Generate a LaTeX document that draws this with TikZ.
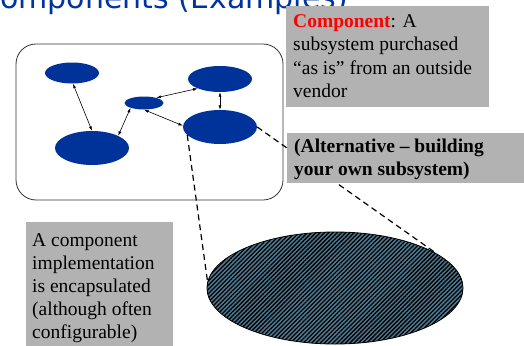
\documentclass[tikz,border=0pt]{standalone}
\usepackage{fontspec}
\setmainfont{Liberation Serif}
\newfontfamily\titlefont{DejaVu Sans}
\usetikzlibrary{arrows.meta,patterns.meta,shapes.geometric}
\definecolor{compblue}{RGB}{0,51,153}
\definecolor{boxgray}{RGB}{178,178,178}
\definecolor{hatchfill}{RGB}{80,122,145}
\definecolor{titleblue}{RGB}{0,51,160}
\definecolor{framegray}{RGB}{50,50,50}
\begin{document}
\begin{tikzpicture}[x=1pt,y=-1pt,
  comp/.style={ellipse, fill=compblue, draw=none, inner sep=0pt},
  link/.style={{Latex[length=4.5pt,width=3pt]}-{Latex[length=4.5pt,width=3pt]}, line width=0.6pt},
  dashlink/.style={dash pattern=on 6pt off 4pt, line width=1.2pt},
  notebox/.style={fill=boxgray, draw=none, inner sep=0pt, anchor=north west},
  notetext/.style={inner sep=0pt, anchor=north west, align=left, font=\fontsize{19.5}{23.3}\selectfont}]
\useasboundingbox (0,0) rectangle (524,345);

% title (cut off at the top, as in the reference)
\node[font=\titlefont\fontsize{30}{32}\selectfont, text=titleblue, anchor=base east, inner sep=0pt] (title) at (348,9) {Components (Examples)};

% subsystem frame
\node[draw=framegray, line width=0.8pt, rounded corners=20pt, minimum width=267, minimum height=156, inner sep=0pt] (sys) at (149.5,122) {};

% components
\node[comp, minimum width=54, minimum height=21] (e1) at (72,73) {};
\node[comp, minimum width=39, minimum height=13] (e2) at (144,103) {};
\node[comp, minimum width=64, minimum height=26] (e3) at (220,79) {};
\node[comp, minimum width=74, minimum height=34] (e4) at (220,127) {};
\node[comp, minimum width=74, minimum height=34] (e5) at (92,148) {};

\draw[link] (e1.-85) -- (e5.north);
\draw[link] (e5.25) -- (e2.200);
\draw[link] (e2.23) -- (e3.203);
\draw[link] (e3.south) -- (e4.north);
\draw[link] (e2.south) -- (e4.178);

% encapsulated implementation
\node[ellipse, draw=black, line width=0.8pt, fill=hatchfill, minimum width=256, minimum height=112, inner sep=0pt,
  postaction={pattern={Lines[angle=45,distance=3pt,line width=1.3pt]}, pattern color=black}] (big) at (335,288) {};

\draw[dashlink] (e4.east) -- (big.19);
\draw[dashlink] (e4.194) -- (big.177);

% notes
\node[notebox, minimum width=203, minimum height=101] (b1) at (286,6) {};
\node[notetext] (t1) at (293,14.5) {\textcolor{red}{\textbf{Component}}: A\\subsystem purchased\\``as is'' from an outside\\vendor};

\node[notebox, minimum width=240, minimum height=50] (b2) at (287,133) {};
\node[notetext, font=\fontsize{19.5}{23}\selectfont\bfseries] (t2) at (294,139) {(Alternative -- building\\your own subsystem)};

\node[notebox, minimum width=147, minimum height=130] (b3) at (26,222) {};
\node[notetext, font=\fontsize{19.5}{23}\selectfont] (t3) at (32,233) {A component\\implementation\\is encapsulated\\(although often\\configurable)};
\end{tikzpicture}
\end{document}
